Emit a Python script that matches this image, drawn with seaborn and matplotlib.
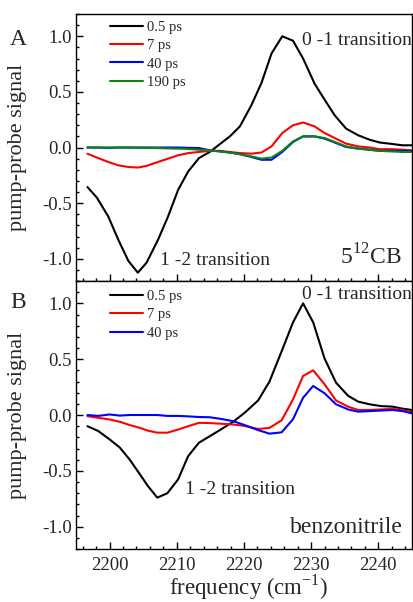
import numpy as np
import pandas as pd
import seaborn as sns
import matplotlib
matplotlib.use("Agg")
import matplotlib.pyplot as plt
from matplotlib.ticker import MultipleLocator

# Datos (panel A: 5CB, panel B: benzonitrilo)
freq_a = [2196.7, 2198.1, 2199.8, 2201.3, 2202.8, 2204.2, 2205.5, 2207.2, 2208.7, 2210.2,
          2211.7, 2213.3, 2214.9, 2216.4, 2217.9, 2219.4, 2221.1, 2222.6, 2224.1, 2225.7,
          2227.3, 2228.8, 2230.5, 2232.0, 2233.5, 2235.2, 2237.0, 2238.7, 2240.2, 2241.9,
          2243.6, 2245.0]
a_05 = [-0.355, -0.45, -0.62, -0.83, -1.02, -1.125, -1.035, -0.83, -0.62, -0.38,
        -0.215, -0.095, -0.04, 0.03, 0.10, 0.19, 0.38, 0.58, 0.845, 1.0,
        0.96, 0.80, 0.575, 0.43, 0.29, 0.17, 0.11, 0.07, 0.045, 0.033,
        0.02, 0.02]
a_7 = [-0.056, -0.09, -0.13, -0.16, -0.175, -0.18, -0.165, -0.13, -0.10, -0.07,
       -0.05, -0.04, -0.03, -0.03, -0.04, -0.05, -0.055, -0.045, 0.01, 0.13,
       0.20, 0.225, 0.19, 0.13, 0.085, 0.035, 0.01, 0.0, -0.015, -0.015,
       -0.02, -0.025]
a_40 = [0.0, 0.0, -0.003, 0.0, 0.0, 0.0, 0.0, 0.0, 0.0, 0.0,
        -0.003, -0.005, -0.025, -0.035, -0.045, -0.06, -0.085, -0.11, -0.11, -0.04,
        0.05, 0.10, 0.10, 0.08, 0.045, 0.005, -0.01, -0.02, -0.03, -0.03,
        -0.03, -0.035]
a_190 = [0.0, 0.0, 0.0, 0.0, 0.0, -0.003, -0.003, -0.005, -0.008, -0.01,
         -0.013, -0.02, -0.025, -0.035, -0.045, -0.06, -0.08, -0.10, -0.09, -0.03,
         0.055, 0.10, 0.10, 0.085, 0.05, 0.01, -0.01, -0.02, -0.03, -0.035,
         -0.04, -0.04]

freq_b = [2196.7, 2198.3, 2200.0, 2201.5, 2203.0, 2204.5, 2205.7, 2207.1, 2208.6, 2210.2,
          2211.7, 2213.3, 2214.9, 2216.6, 2218.4, 2220.1, 2222.1, 2223.8, 2225.6, 2227.3,
          2228.8, 2230.3, 2232.0, 2233.7, 2235.5, 2237.0, 2238.7, 2240.4, 2242.1, 2243.6,
          2245.0]
b_05 = [-0.10, -0.143, -0.218, -0.29, -0.40, -0.53, -0.636, -0.74, -0.70, -0.576,
        -0.367, -0.248, -0.19, -0.128, -0.06, 0.02, 0.13, 0.30, 0.57, 0.83,
        1.0, 0.83, 0.505, 0.29, 0.172, 0.12, 0.096, 0.08, 0.075, 0.057,
        0.045]
b_7 = [-0.01, -0.025, -0.04, -0.06, -0.09, -0.115, -0.14, -0.158, -0.158, -0.13,
       -0.10, -0.07, -0.072, -0.078, -0.085, -0.098, -0.125, -0.115, -0.048, 0.14,
       0.35, 0.40, 0.275, 0.13, 0.075, 0.045, 0.045, 0.05, 0.055, 0.045,
       0.025]
b_40 = [0.0, -0.008, 0.005, -0.005, 0.0, 0.0, 0.0, 0.0, -0.008, -0.008,
        -0.012, -0.018, -0.02, -0.035, -0.055, -0.09, -0.135, -0.167, -0.155, -0.038,
        0.155, 0.26, 0.195, 0.096, 0.05, 0.03, 0.035, 0.04, 0.045, 0.035,
        0.015]

series_a = [("0.5 ps", a_05, "black"), ("7 ps", a_7, "red"),
            ("40 ps", a_40, "blue"), ("190 ps", a_190, "#0a870a")]
series_b = [("0.5 ps", b_05, "black"), ("7 ps", b_7, "red"), ("40 ps", b_40, "blue")]

sns.set_theme(style="ticks")
plt.rcParams["font.family"] = ["Liberation Serif", "DejaVu Serif"]
plt.rcParams["mathtext.fontset"] = "custom"
plt.rcParams["mathtext.rm"] = "Liberation Serif"
plt.rcParams["axes.unicode_minus"] = False

fig = plt.figure(figsize=(4.14, 6.02), dpi=100)
ax_a = fig.add_axes([0.1836, 0.5332, 0.8114, 0.4435])
ax_b = fig.add_axes([0.1836, 0.088, 0.8114, 0.4452], sharex=ax_a)


def dibujar(ax, freq, series, leg_y):
    for nombre, valores, color in series:
        df = pd.DataFrame({"freq": freq, "signal": valores})
        sns.lineplot(data=df, x="freq", y="signal", ax=ax, color=color, lw=1.5,
                     label=nombre, sort=False, estimator=None)
    ax.set_xlim(2195, 2245)
    ax.set_ylim(-1.2, 1.2)
    ax.xaxis.set_major_locator(MultipleLocator(10))
    ax.xaxis.set_minor_locator(MultipleLocator(2))
    ax.yaxis.set_major_locator(MultipleLocator(0.5))
    ax.yaxis.set_minor_locator(MultipleLocator(0.1))
    ax.tick_params(which="both", direction="in", top=False, right=False,
                   labelsize=13.5, width=1.0, color="black")
    ax.tick_params(which="major", length=5, pad=3)
    ax.tick_params(which="minor", length=2.5)
    ax.tick_params(axis="x", which="major", pad=5.5)
    for sp in ax.spines.values():
        sp.set_color("black")
        sp.set_linewidth(1.0)
    ax.set_ylabel("pump-probe signal", fontsize=16)
    ax.yaxis.set_label_coords(-0.146, 0.5)
    ax.set_xlabel("")
    leg = ax.legend(loc="upper left", bbox_to_anchor=(0.10, leg_y), frameon=False,
                    fontsize=10.5, handlelength=2.3, handletextpad=0.25,
                    labelspacing=0.35, borderpad=0, borderaxespad=0)
    for h in leg.get_lines():
        h.set_linewidth(1.5)


dibujar(ax_a, freq_a, series_a, 0.975)
dibujar(ax_b, freq_b, series_b, 0.967)

ax_a.tick_params(axis="x", labelbottom=False)
fig.text(0.6, 0.012, "frequency (cm$^{\\mathrm{-1}}$)", fontsize=16.5,
         ha="center", va="baseline")

# Etiquetas de las transiciones
ax_a.text(2228.7, 0.92, "0 -1 transition", fontsize=14, ha="left", va="baseline")
ax_a.text(2207.5, -1.06, "1 -2 transition", fontsize=14, ha="left", va="baseline")
ax_b.text(2228.7, 1.035, "0 -1 transition", fontsize=14, ha="left", va="baseline")
ax_b.text(2211.2, -0.71, "1 -2 transition", fontsize=14, ha="left", va="baseline")

ax_a.text(0.97, 0.06, "5$^{12}$CB", transform=ax_a.transAxes, fontsize=17,
          ha="right", va="baseline")
ax_b.text(0.973, 0.06, "benzonitrile", transform=ax_b.transAxes, fontsize=17,
          ha="right", va="baseline")

ax_a.text(-0.173, 0.884, "A", transform=ax_a.transAxes, fontsize=17,
          ha="center", va="baseline")
ax_b.text(-0.173, 0.899, "B", transform=ax_b.transAxes, fontsize=17,
          ha="center", va="baseline")

fig.savefig("out.png", dpi=100)
